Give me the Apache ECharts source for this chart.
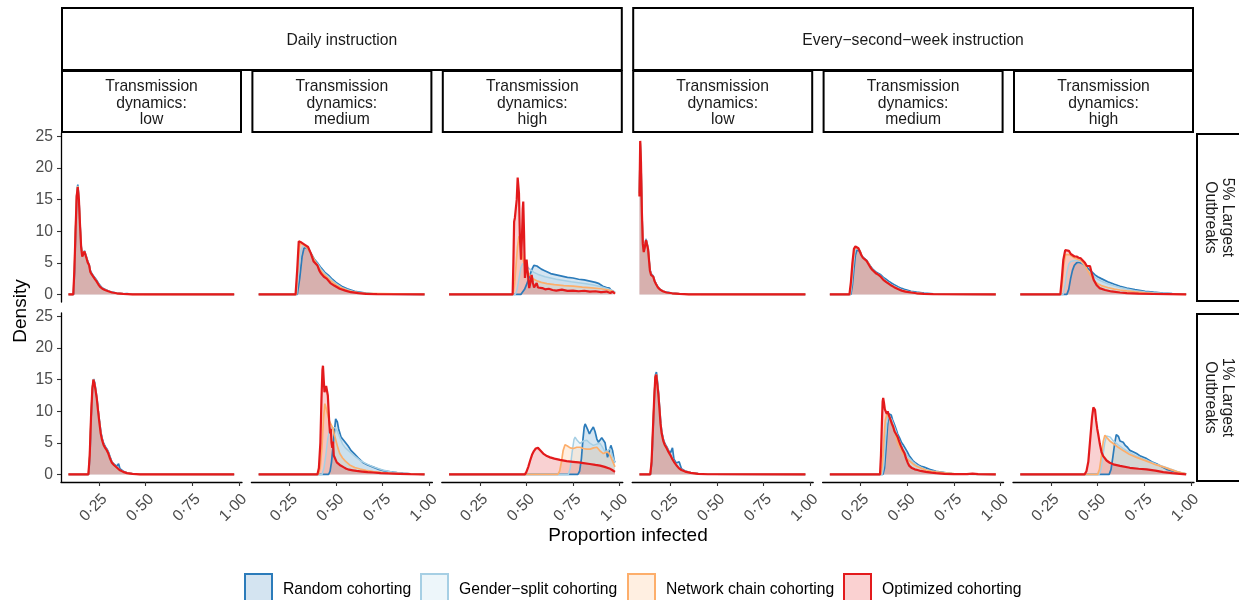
<!DOCTYPE html>
<html lang="en">
<head>
    <meta charset="utf-8">
    <title>Outbreak size densities</title>
    <script src="https://cdn.jsdelivr.net/npm/echarts@6/dist/echarts.min.js"></script>
    <style>
        html, body { margin: 0; padding: 0; background: #fff; }
        #chart { width: 1239px; height: 600px; }
    </style>
</head>
<body>
<div id="chart"></div>
<script>
    // ---- labels ----
    var seriesNames = ['Random cohorting', 'Gender\u2212split cohorting', 'Network chain cohorting', 'Optimized cohorting'];
    var instructions = ['Daily instruction', 'Every\u2212second\u2212week instruction'];
    var dynamics = ['low', 'medium', 'high'];
    var outbreakRows = ['5% Largest\nOutbreaks', '1% Largest\nOutbreaks'];
    var xTicks = [0.25, 0.5, 0.75, 1];
    var yTicks = [0, 5, 10, 15, 20, 25];

    // ---- densities, [proportion infected, density] ----
    // daily instruction, low dynamics, 5% largest
    var dLow5Random = [[0.086,0],[0.113,0],[0.119,4],[0.125,10.5],[0.131,16],[0.136,17.4],[0.142,15.3],[0.148,11.2],[0.154,7.8],[0.160,6.2],[0.166,6.4],[0.172,6.9],[0.178,6.6],[0.184,5.8],[0.190,5.2],[0.197,4.7],[0.203,3.8],[0.210,3.4],[0.218,3.0],[0.226,2.7],[0.236,2.3],[0.246,1.8],[0.256,1.4],[0.268,1.0],[0.282,0.8],[0.30,0.55],[0.32,0.35],[0.345,0.2],[0.38,0.1],[0.40,0.12],[0.43,0.03],[0.975,0]];
    var dLow5Gender = [[0.086,0],[0.112,0],[0.118,4],[0.124,10.2],[0.130,15.7],[0.136,17.2],[0.142,15.1],[0.148,11.1],[0.154,7.6],[0.160,6.1],[0.166,6.3],[0.172,6.8],[0.178,6.5],[0.184,5.7],[0.190,5.1],[0.197,4.6],[0.203,3.7],[0.210,3.3],[0.218,2.9],[0.226,2.6],[0.236,2.2],[0.246,1.7],[0.256,1.3],[0.268,0.95],[0.282,0.75],[0.30,0.5],[0.32,0.32],[0.345,0.19],[0.38,0.09],[0.43,0.02],[0.975,0]];
    var dLow5Chain = [[0.086,0],[0.112,0],[0.118,4.2],[0.124,10.3],[0.130,15.6],[0.136,17.1],[0.142,15],[0.148,11],[0.154,7.6],[0.160,6.1],[0.166,6.3],[0.172,6.8],[0.178,6.5],[0.184,5.6],[0.190,5.0],[0.197,4.6],[0.203,3.6],[0.210,3.2],[0.218,2.9],[0.226,2.5],[0.236,2.1],[0.246,1.6],[0.256,1.2],[0.268,0.9],[0.282,0.7],[0.30,0.5],[0.32,0.3],[0.345,0.18],[0.38,0.08],[0.43,0.02],[0.975,0]];
    var dLow5Optimized = [[0.086,0],[0.112,0],[0.118,4],[0.124,10],[0.130,15.5],[0.136,17.0],[0.142,15],[0.148,11],[0.154,7.5],[0.160,6.0],[0.166,6.3],[0.172,6.8],[0.178,6.5],[0.184,5.6],[0.190,5.0],[0.197,4.6],[0.203,3.6],[0.210,3.2],[0.218,2.9],[0.226,2.5],[0.236,2.1],[0.246,1.6],[0.256,1.2],[0.268,0.9],[0.282,0.7],[0.30,0.5],[0.32,0.3],[0.345,0.18],[0.38,0.08],[0.43,0.02],[0.975,0]];

    // daily instruction, medium dynamics, 5% largest
    var dMed5Random = [[0.085,0],[0.292,0],[0.305,2.5],[0.318,6],[0.328,7.3],[0.34,7.4],[0.355,7.0],[0.37,6.3],[0.385,5.5],[0.40,5.0],[0.42,4.2],[0.44,3.5],[0.46,3.0],[0.48,2.4],[0.50,1.9],[0.53,1.3],[0.56,0.9],[0.60,0.5],[0.65,0.25],[0.70,0.1],[0.78,0.03],[0.975,0]];
    var dMed5Gender = [[0.085,0],[0.289,0],[0.30,4],[0.312,7],[0.325,7.8],[0.34,7.5],[0.36,6.8],[0.38,5.5],[0.40,4.9],[0.42,4.0],[0.44,3.3],[0.46,2.8],[0.48,2.2],[0.50,1.7],[0.53,1.1],[0.56,0.75],[0.60,0.4],[0.65,0.2],[0.70,0.08],[0.975,0]];
    var dMed5Chain = [[0.085,0],[0.286,0],[0.296,5],[0.305,8],[0.318,8.0],[0.33,7.8],[0.35,7.2],[0.37,6.2],[0.39,5.1],[0.41,4.1],[0.43,3.3],[0.45,2.8],[0.47,2.2],[0.50,1.5],[0.53,1.0],[0.56,0.65],[0.60,0.35],[0.65,0.15],[0.975,0]];
    var dMed5Optimized = [[0.085,0],[0.283,0],[0.292,4],[0.300,8.4],[0.305,8.6],[0.315,8.2],[0.325,8.0],[0.335,7.8],[0.350,7.5],[0.365,6.5],[0.38,5.2],[0.39,5.0],[0.40,4.6],[0.41,3.8],[0.42,3.3],[0.435,2.8],[0.45,2.5],[0.47,1.8],[0.49,1.4],[0.52,0.9],[0.55,0.6],[0.58,0.35],[0.62,0.2],[0.66,0.1],[0.72,0.05],[0.975,0]];

    // daily instruction, high dynamics, 5% largest
    var dHigh5Random = [[0.085,0],[0.470,0],[0.48,0.3],[0.49,0.8],[0.50,1.5],[0.51,2.3],[0.52,3.2],[0.53,4.0],[0.540,4.6],[0.548,4.7],[0.556,4.5],[0.566,4.3],[0.58,4.0],[0.595,3.8],[0.61,3.6],[0.63,3.3],[0.66,3.1],[0.69,2.9],[0.72,2.7],[0.75,2.6],[0.78,2.4],[0.81,2.3],[0.84,2.1],[0.87,1.9],[0.89,1.7],[0.91,1.3],[0.93,1.1],[0.945,1.0],[0.955,0.6],[0.965,0.8],[0.975,0.3]];
    var dHigh5Gender = [[0.085,0],[0.44,0],[0.45,0.8],[0.46,2.5],[0.47,4.2],[0.48,4.9],[0.49,5.0],[0.50,4.6],[0.51,4.2],[0.52,3.9],[0.54,3.5],[0.56,3.2],[0.58,3.0],[0.60,2.8],[0.63,2.6],[0.66,2.4],[0.70,2.2],[0.74,2.0],[0.78,1.85],[0.82,1.7],[0.86,1.5],[0.90,1.2],[0.93,0.95],[0.95,0.75],[0.965,0.6],[0.975,0.3]];
    var dHigh5Chain = [[0.085,0],[0.428,0],[0.436,1.5],[0.444,4.5],[0.452,7.5],[0.460,9.2],[0.467,8.5],[0.474,6.8],[0.482,5.5],[0.49,4.6],[0.50,3.9],[0.51,3.4],[0.525,2.8],[0.54,2.4],[0.56,2.1],[0.58,1.9],[0.61,1.7],[0.65,1.55],[0.70,1.4],[0.75,1.3],[0.80,1.15],[0.85,1.05],[0.90,0.9],[0.94,0.7],[0.96,0.5],[0.975,0.2]];
    var dHigh5Optimized = [[0.085,0],[0.426,0],[0.430,5],[0.434,11.5],[0.438,12.1],[0.443,12.0],[0.448,15],[0.453,18.5],[0.456,18.8],[0.460,16],[0.465,9],[0.471,5.5],[0.476,9],[0.480,13.5],[0.483,14.7],[0.487,10],[0.492,2.6],[0.497,4],[0.501,5.5],[0.507,3.5],[0.515,1.0],[0.521,1.8],[0.528,3.1],[0.535,1.8],[0.541,1.1],[0.548,1.4],[0.555,1.8],[0.562,1.1],[0.572,0.9],[0.585,1.0],[0.60,0.8],[0.62,0.9],[0.64,0.7],[0.66,0.6],[0.69,0.75],[0.72,0.55],[0.75,0.6],[0.78,0.5],[0.81,0.58],[0.84,0.45],[0.87,0.5],[0.90,0.35],[0.93,0.45],[0.95,0.22],[0.962,0.45],[0.975,0.1]];

    // every-second-week instruction, low dynamics, 5% largest
    var eLow5Random = [[0.085,16],[0.089,24.0],[0.093,21.2],[0.098,13.3],[0.103,8.2],[0.108,6.9],[0.114,7.7],[0.120,8.8],[0.126,8.8],[0.131,7.4],[0.136,5.7],[0.141,4.0],[0.147,3.3],[0.153,3.3],[0.159,2.9],[0.166,2.2],[0.174,1.7],[0.184,1.2],[0.196,0.8],[0.21,0.55],[0.23,0.35],[0.26,0.2],[0.30,0.1],[0.35,0.03],[0.975,0]];
    var eLow5Gender = [[0.085,15.8],[0.089,24.1],[0.093,21.1],[0.098,13.1],[0.103,8.1],[0.108,6.8],[0.114,7.6],[0.120,8.7],[0.126,8.7],[0.131,7.3],[0.136,5.6],[0.141,3.9],[0.147,3.2],[0.153,3.2],[0.159,2.8],[0.166,2.1],[0.174,1.6],[0.184,1.15],[0.196,0.78],[0.21,0.52],[0.23,0.32],[0.26,0.19],[0.30,0.09],[0.35,0.02],[0.975,0]];
    var eLow5Chain = [[0.085,15.6],[0.089,24.2],[0.093,21],[0.098,13],[0.103,8],[0.108,6.7],[0.114,7.5],[0.120,8.6],[0.126,8.7],[0.131,7.2],[0.136,5.5],[0.141,3.8],[0.147,3.1],[0.153,3.2],[0.159,2.8],[0.166,2.1],[0.174,1.6],[0.184,1.1],[0.196,0.76],[0.21,0.5],[0.23,0.3],[0.26,0.18],[0.30,0.08],[0.35,0.02],[0.975,0]];
    var eLow5Optimized = [[0.085,15.5],[0.089,24.3],[0.093,21],[0.098,13],[0.103,8],[0.108,6.7],[0.114,7.5],[0.120,8.6],[0.126,8.7],[0.131,7.2],[0.136,5.5],[0.141,3.8],[0.147,3.1],[0.153,3.2],[0.159,2.8],[0.166,2.1],[0.174,1.6],[0.184,1.1],[0.196,0.75],[0.21,0.5],[0.23,0.3],[0.26,0.18],[0.30,0.08],[0.35,0.02],[0.975,0]];

    // every-second-week instruction, medium dynamics, 5% largest
    var eMed5Random = [[0.085,0],[0.198,0],[0.206,1.5],[0.214,4],[0.222,6.2],[0.230,7.0],[0.238,7.1],[0.246,6.9],[0.254,6.3],[0.262,5.9],[0.272,5.6],[0.282,5.4],[0.292,5.1],[0.302,4.5],[0.312,4.1],[0.322,3.8],[0.334,3.5],[0.346,3.3],[0.358,3.1],[0.372,2.7],[0.386,2.4],[0.40,2.1],[0.415,1.8],[0.43,1.55],[0.45,1.2],[0.47,0.95],[0.49,0.75],[0.52,0.5],[0.55,0.35],[0.59,0.2],[0.64,0.1],[0.70,0.04],[0.975,0]];
    var eMed5Gender = [[0.085,0],[0.195,0],[0.203,1.8],[0.211,4.6],[0.219,6.8],[0.227,7.4],[0.235,7.3],[0.243,7.0],[0.251,6.3],[0.259,5.9],[0.269,5.6],[0.279,5.4],[0.289,5.1],[0.299,4.5],[0.309,4.0],[0.319,3.7],[0.331,3.4],[0.343,3.2],[0.355,3.0],[0.369,2.6],[0.383,2.2],[0.397,1.9],[0.412,1.6],[0.427,1.35],[0.447,1.05],[0.467,0.8],[0.487,0.6],[0.517,0.4],[0.547,0.26],[0.587,0.15],[0.64,0.07],[0.70,0.02],[0.975,0]];
    var eMed5Chain = [[0.085,0],[0.192,0],[0.200,2],[0.208,5],[0.216,7.1],[0.224,7.5],[0.232,7.4],[0.240,7.2],[0.248,6.8],[0.256,6.1],[0.265,5.7],[0.275,5.5],[0.285,5.2],[0.295,4.8],[0.305,4.2],[0.315,3.8],[0.326,3.5],[0.338,3.2],[0.350,3.0],[0.363,2.6],[0.377,2.2],[0.391,1.9],[0.405,1.6],[0.42,1.3],[0.44,1.0],[0.46,0.75],[0.48,0.55],[0.51,0.36],[0.54,0.22],[0.58,0.12],[0.63,0.06],[0.975,0]];
    var eMed5Optimized = [[0.085,0],[0.19,0],[0.198,2],[0.206,5],[0.214,7.2],[0.222,7.6],[0.230,7.5],[0.238,7.3],[0.246,7.0],[0.254,6.2],[0.262,5.8],[0.272,5.5],[0.282,5.3],[0.292,5.0],[0.302,4.3],[0.312,3.9],[0.322,3.6],[0.334,3.3],[0.346,3.1],[0.358,2.8],[0.372,2.3],[0.386,2.0],[0.40,1.7],[0.415,1.4],[0.43,1.15],[0.45,0.85],[0.47,0.6],[0.49,0.45],[0.52,0.3],[0.55,0.18],[0.59,0.1],[0.64,0.05],[0.975,0]];

    // every-second-week instruction, high dynamics, 5% largest
    var eHigh5Random = [[0.085,0],[0.335,0],[0.345,0.8],[0.355,2.5],[0.365,3.8],[0.375,4.6],[0.387,5.0],[0.398,5.1],[0.410,5.0],[0.420,5.1],[0.432,4.6],[0.442,4.3],[0.452,4.0],[0.462,3.8],[0.472,3.5],[0.486,3.1],[0.50,2.8],[0.52,2.5],[0.554,2.0],[0.59,1.6],[0.62,1.3],[0.656,1.0],[0.70,0.75],[0.755,0.5],[0.80,0.35],[0.85,0.22],[0.90,0.12],[0.94,0.07],[0.975,0.03]];
    var eHigh5Gender = [[0.085,0],[0.315,0],[0.325,1.5],[0.335,3.5],[0.345,4.8],[0.355,5.2],[0.366,5.3],[0.376,5.4],[0.387,5.4],[0.398,5.3],[0.410,5.2],[0.420,5.2],[0.432,4.5],[0.442,4.0],[0.452,3.6],[0.462,3.4],[0.472,3.1],[0.486,2.7],[0.50,2.4],[0.52,2.1],[0.554,1.7],[0.59,1.35],[0.62,1.1],[0.656,0.85],[0.70,0.6],[0.755,0.4],[0.80,0.28],[0.85,0.17],[0.90,0.1],[0.975,0.02]];
    var eHigh5Chain = [[0.085,0],[0.303,0],[0.311,2],[0.319,4.8],[0.328,6.3],[0.338,6.6],[0.348,6.3],[0.358,6.0],[0.368,5.9],[0.378,5.7],[0.390,5.6],[0.400,5.4],[0.412,5.3],[0.422,5.2],[0.432,4.6],[0.442,4.0],[0.452,3.5],[0.462,3.0],[0.472,2.5],[0.486,2.0],[0.50,1.7],[0.52,1.4],[0.554,1.1],[0.59,0.85],[0.62,0.7],[0.656,0.55],[0.70,0.4],[0.755,0.26],[0.80,0.18],[0.85,0.1],[0.90,0.05],[0.975,0.01]];
    var eHigh5Optimized = [[0.085,0],[0.300,0],[0.308,2.5],[0.316,5.5],[0.326,7.0],[0.336,7.3],[0.346,6.9],[0.356,6.4],[0.366,6.3],[0.376,6.0],[0.387,6.0],[0.398,5.8],[0.410,5.7],[0.420,5.7],[0.432,5.0],[0.442,4.5],[0.450,4.4],[0.459,4.5],[0.468,3.4],[0.479,2.3],[0.494,1.5],[0.510,1.0],[0.54,0.7],[0.574,0.47],[0.62,0.3],[0.657,0.2],[0.72,0.12],[0.80,0.07],[0.88,0.04],[0.975,0.01]];

    // daily instruction, low dynamics, 1% largest
    var dLow1Random = [[0.086,0],[0.194,0],[0.201,3],[0.208,9.2],[0.215,13.8],[0.221,15.1],[0.227,14.5],[0.233,13.3],[0.239,12.0],[0.246,10],[0.253,8.3],[0.260,6.7],[0.267,5.7],[0.275,4.9],[0.284,4.4],[0.293,4.0],[0.301,3.5],[0.309,2.8],[0.319,2.0],[0.331,1.6],[0.345,1.3],[0.355,1.7],[0.362,0.9],[0.38,0.5],[0.40,0.25],[0.43,0.1],[0.47,0.03],[0.975,0]];
    var dLow1Gender = [[0.086,0],[0.193,0],[0.200,3],[0.207,9.1],[0.214,13.6],[0.220,15.0],[0.226,14.4],[0.232,13.2],[0.238,12.0],[0.245,10],[0.252,8.3],[0.259,6.6],[0.266,5.6],[0.274,4.8],[0.283,4.3],[0.292,3.9],[0.300,3.4],[0.308,2.7],[0.318,1.95],[0.330,1.55],[0.345,1.15],[0.36,0.75],[0.38,0.45],[0.40,0.22],[0.43,0.09],[0.47,0.02],[0.975,0]];
    var dLow1Chain = [[0.086,0],[0.193,0],[0.200,3.1],[0.207,9],[0.214,13.5],[0.220,15.0],[0.226,14.3],[0.232,13.2],[0.238,12.0],[0.245,10],[0.252,8.2],[0.259,6.5],[0.266,5.5],[0.274,4.7],[0.283,4.2],[0.292,3.8],[0.300,3.3],[0.308,2.6],[0.318,1.9],[0.330,1.5],[0.345,1.1],[0.36,0.7],[0.38,0.4],[0.40,0.2],[0.43,0.08],[0.47,0.02],[0.975,0]];
    var dLow1Optimized = [[0.086,0],[0.193,0],[0.200,3],[0.207,9],[0.214,13.5],[0.220,15.0],[0.226,14.3],[0.232,13.2],[0.238,12.0],[0.245,10],[0.252,8.2],[0.259,6.5],[0.266,5.5],[0.274,4.7],[0.283,4.2],[0.292,3.8],[0.300,3.3],[0.308,2.6],[0.318,1.9],[0.330,1.5],[0.345,1.1],[0.36,0.7],[0.38,0.4],[0.40,0.2],[0.43,0.08],[0.47,0.02],[0.975,0]];

    // daily instruction, medium dynamics, 1% largest
    var dMed1Random = [[0.085,0],[0.460,0],[0.468,0.5],[0.476,2],[0.484,4.5],[0.492,7.0],[0.498,8.8],[0.502,9.0],[0.507,8.3],[0.514,7.2],[0.520,6.6],[0.527,5.9],[0.535,5.6],[0.544,5.3],[0.554,5.0],[0.565,4.5],[0.58,3.8],[0.60,3.2],[0.62,2.6],[0.644,1.9],[0.67,1.5],[0.70,1.15],[0.73,0.8],[0.754,0.6],[0.79,0.4],[0.826,0.27],[0.86,0.16],[0.90,0.08],[0.94,0.03],[0.975,0.01]];
    var dMed1Gender = [[0.085,0],[0.425,0],[0.435,1],[0.445,3],[0.455,5.5],[0.465,7.0],[0.475,7.4],[0.485,7.6],[0.495,7.4],[0.505,7.0],[0.52,5.9],[0.535,4.8],[0.55,4.2],[0.573,3.6],[0.60,2.9],[0.63,2.2],[0.66,1.7],[0.70,1.2],[0.75,0.7],[0.80,0.4],[0.86,0.2],[0.92,0.08],[0.975,0.02]];
    var dMed1Chain = [[0.085,0],[0.405,0],[0.415,1],[0.425,4.5],[0.433,9],[0.440,11.2],[0.447,10.5],[0.455,9.5],[0.465,8.4],[0.475,7.8],[0.483,7.3],[0.49,6.4],[0.50,5.3],[0.51,4.2],[0.52,3.3],[0.535,2.6],[0.55,2.1],[0.573,1.5],[0.60,1.1],[0.63,0.85],[0.66,0.65],[0.70,0.45],[0.75,0.3],[0.80,0.18],[0.86,0.1],[0.92,0.05],[0.975,0.02]];
    var dMed1Optimized = [[0.085,0],[0.400,0],[0.408,1],[0.416,5],[0.422,12],[0.427,16.5],[0.430,17.2],[0.434,15],[0.438,13],[0.442,12.8],[0.447,14],[0.452,14.3],[0.456,12.5],[0.460,10.2],[0.464,8],[0.468,6.5],[0.472,7.2],[0.476,5],[0.480,4.2],[0.484,5.2],[0.488,3.0],[0.493,2.7],[0.498,3.2],[0.504,1.9],[0.512,2.2],[0.52,1.5],[0.53,1.3],[0.54,1.15],[0.555,0.9],[0.57,0.75],[0.59,0.65],[0.61,0.55],[0.64,0.45],[0.67,0.35],[0.70,0.3],[0.74,0.22],[0.78,0.15],[0.84,0.1],[0.90,0.05],[0.975,0.02]];

    // daily instruction, high dynamics, 1% largest
    var dHigh1Random = [[0.085,0],[0.776,0],[0.785,0.5],[0.795,2.5],[0.803,5.5],[0.810,7.5],[0.815,8.0],[0.822,7.8],[0.830,7.0],[0.838,6.4],[0.848,7.0],[0.859,7.5],[0.868,6.8],[0.878,5.6],[0.886,5.1],[0.895,5.3],[0.904,5.8],[0.913,5.9],[0.922,5.0],[0.930,3.5],[0.935,2.7],[0.943,3.5],[0.953,4.6],[0.962,3.8],[0.971,2.2],[0.975,1.9]];
    var dHigh1Gender = [[0.085,0],[0.725,0],[0.735,1],[0.745,3.5],[0.755,5.5],[0.761,5.9],[0.772,5.4],[0.788,4.9],[0.806,5.3],[0.824,5.4],[0.842,4.9],[0.859,4.6],[0.877,4.8],[0.895,4.9],[0.91,4.2],[0.922,3.5],[0.936,3.8],[0.949,4.1],[0.96,3.0],[0.975,1.9]];
    var dHigh1Chain = [[0.085,0],[0.668,0],[0.678,0.5],[0.688,2.0],[0.697,3.8],[0.707,4.7],[0.72,4.5],[0.735,4.2],[0.752,4.1],[0.77,4.3],[0.788,4.3],[0.805,4.1],[0.824,4.0],[0.842,4.0],[0.86,4.2],[0.878,4.3],[0.895,3.7],[0.913,3.3],[0.928,3.5],[0.94,3.5],[0.955,2.6],[0.975,1.2]];
    var dHigh1Optimized = [[0.085,0],[0.492,0],[0.50,0.4],[0.51,1.2],[0.52,2.2],[0.53,3.1],[0.54,3.7],[0.55,4.1],[0.562,4.2],[0.575,3.8],[0.59,3.3],[0.61,2.9],[0.627,2.7],[0.65,2.5],[0.68,2.3],[0.716,2.1],[0.75,2.0],[0.78,1.9],[0.806,1.8],[0.84,1.65],[0.87,1.5],[0.895,1.4],[0.92,1.2],[0.945,0.95],[0.96,0.7],[0.975,0.4]];

    // every-second-week instruction, low dynamics, 1% largest
    var eLow1Random = [[0.085,0],[0.144,0],[0.151,2],[0.158,7.2],[0.165,12.5],[0.171,15.8],[0.176,16.2],[0.181,14.8],[0.187,13.0],[0.193,10.6],[0.199,8.2],[0.205,6.7],[0.213,5.6],[0.221,4.9],[0.231,4.4],[0.241,3.8],[0.251,3.4],[0.262,4.2],[0.270,2.4],[0.282,1.8],[0.298,2.0],[0.31,0.9],[0.33,0.55],[0.36,0.3],[0.40,0.12],[0.45,0.04],[0.975,0]];
    var eLow1Gender = [[0.085,0],[0.143,0],[0.150,2],[0.157,7.1],[0.164,12.2],[0.170,15.5],[0.175,15.9],[0.180,14.6],[0.186,12.9],[0.192,10.5],[0.198,8.1],[0.204,6.6],[0.212,5.5],[0.220,4.8],[0.230,4.3],[0.240,3.7],[0.250,3.2],[0.260,2.7],[0.270,2.1],[0.282,1.6],[0.296,1.1],[0.31,0.75],[0.33,0.5],[0.36,0.27],[0.40,0.11],[0.45,0.03],[0.975,0]];
    var eLow1Chain = [[0.085,0],[0.143,0],[0.150,2.1],[0.157,7],[0.164,12],[0.170,15.4],[0.175,15.8],[0.180,14.5],[0.186,12.8],[0.192,10.5],[0.198,8],[0.204,6.5],[0.212,5.4],[0.220,4.7],[0.230,4.2],[0.240,3.6],[0.250,3.1],[0.260,2.5],[0.270,2.0],[0.282,1.5],[0.296,1.0],[0.31,0.7],[0.33,0.45],[0.36,0.25],[0.40,0.1],[0.45,0.03],[0.975,0]];
    var eLow1Optimized = [[0.085,0],[0.143,0],[0.150,2],[0.157,7],[0.164,12],[0.170,15.4],[0.175,15.8],[0.180,14.5],[0.186,12.8],[0.192,10.5],[0.198,8],[0.204,6.5],[0.212,5.4],[0.220,4.7],[0.230,4.2],[0.240,3.6],[0.250,3.1],[0.260,2.5],[0.270,2.0],[0.282,1.5],[0.296,1.0],[0.31,0.7],[0.33,0.45],[0.36,0.25],[0.40,0.1],[0.45,0.03],[0.975,0]];

    // every-second-week instruction, medium dynamics, 1% largest
    var eMed1Random = [[0.085,0],[0.370,0],[0.378,1],[0.386,4],[0.394,7.5],[0.401,9.6],[0.407,9.9],[0.414,9.4],[0.422,8.6],[0.430,8.0],[0.440,7.2],[0.449,6.4],[0.46,5.7],[0.47,5.0],[0.48,4.6],[0.49,4.3],[0.50,3.6],[0.51,3.0],[0.52,2.6],[0.53,2.2],[0.545,1.8],[0.56,1.5],[0.575,1.3],[0.59,1.15],[0.62,0.8],[0.655,0.5],[0.70,0.3],[0.74,0.12],[0.80,0.05],[0.975,0.01]];
    var eMed1Gender = [[0.085,0],[0.366,0],[0.374,1.5],[0.382,5],[0.390,8],[0.398,9.2],[0.406,9.3],[0.415,8.8],[0.425,8.0],[0.435,7.2],[0.449,6.0],[0.46,5.2],[0.47,4.5],[0.48,3.9],[0.49,3.4],[0.51,2.6],[0.53,2.0],[0.55,1.5],[0.572,1.15],[0.60,0.8],[0.63,0.55],[0.655,0.42],[0.70,0.25],[0.75,0.12],[0.82,0.05],[0.975,0.01]];
    var eMed1Chain = [[0.085,0],[0.358,0],[0.366,1.5],[0.374,5],[0.382,8.5],[0.391,9.6],[0.400,9.2],[0.41,8.6],[0.42,7.9],[0.43,7.0],[0.44,6.0],[0.449,5.0],[0.46,4.3],[0.47,3.7],[0.48,3.2],[0.49,2.8],[0.51,2.2],[0.53,1.7],[0.55,1.3],[0.572,1.0],[0.60,0.7],[0.63,0.5],[0.655,0.4],[0.70,0.25],[0.75,0.12],[0.82,0.06],[0.975,0.01]];
    var eMed1Optimized = [[0.085,0],[0.354,0],[0.359,3],[0.364,8],[0.368,11.5],[0.371,12.1],[0.375,11.4],[0.380,10.3],[0.385,10.0],[0.390,9.6],[0.395,10.0],[0.400,9.5],[0.406,9.2],[0.412,8.5],[0.418,8.0],[0.425,7.5],[0.432,6.8],[0.440,6.4],[0.449,5.9],[0.457,5.2],[0.465,4.6],[0.474,4.0],[0.486,3.3],[0.494,2.5],[0.502,1.9],[0.510,1.4],[0.525,1.0],[0.54,0.8],[0.555,0.7],[0.572,0.55],[0.60,0.4],[0.63,0.28],[0.655,0.2],[0.70,0.1],[0.75,0.05],[0.82,0.05],[0.85,0.12],[0.88,0.05],[0.975,0.02]];

    // every-second-week instruction, high dynamics, 1% largest
    var eHigh1Random = [[0.085,0],[0.562,0],[0.572,0.8],[0.582,2.8],[0.592,5.0],[0.600,6.3],[0.605,6.6],[0.612,6.0],[0.620,5.3],[0.628,5.0],[0.637,5.1],[0.648,4.6],[0.66,4.3],[0.673,3.8],[0.69,3.6],[0.709,3.3],[0.73,2.9],[0.763,2.5],[0.79,2.0],[0.816,1.7],[0.845,1.2],[0.87,0.8],[0.90,0.55],[0.924,0.4],[0.95,0.2],[0.975,0.05]];
    var eHigh1Gender = [[0.085,0],[0.508,0],[0.518,0.8],[0.528,2.8],[0.538,5.0],[0.548,6.1],[0.557,6.3],[0.568,5.9],[0.584,5.3],[0.61,4.7],[0.637,4.1],[0.67,3.5],[0.709,2.9],[0.745,2.5],[0.781,2.0],[0.815,1.6],[0.852,1.25],[0.89,0.85],[0.924,0.5],[0.95,0.28],[0.975,0.1]];
    var eHigh1Chain = [[0.085,0],[0.500,0],[0.510,0.8],[0.520,2.8],[0.530,5.2],[0.539,6.2],[0.550,5.8],[0.565,5.3],[0.584,4.9],[0.61,4.3],[0.637,3.8],[0.67,3.2],[0.709,2.7],[0.745,2.3],[0.781,1.9],[0.815,1.5],[0.852,1.2],[0.89,0.8],[0.924,0.45],[0.95,0.25],[0.975,0.1]];
    var eHigh1Optimized = [[0.085,0],[0.430,0],[0.440,0.5],[0.450,2],[0.460,5.5],[0.470,9],[0.477,10.6],[0.481,10.8],[0.486,10.2],[0.492,8.5],[0.498,7.2],[0.503,6.4],[0.512,4.8],[0.521,3.5],[0.53,2.9],[0.548,2.2],[0.565,1.85],[0.584,1.6],[0.62,1.35],[0.673,1.05],[0.72,0.9],[0.763,0.8],[0.81,0.6],[0.852,0.37],[0.90,0.2],[0.942,0.1],[0.975,0.02]];

    // rows: outbreak size, columns: instruction x dynamics
    var panelData = [
        [
            [dLow5Random, dLow5Gender, dLow5Chain, dLow5Optimized],
            [dMed5Random, dMed5Gender, dMed5Chain, dMed5Optimized],
            [dHigh5Random, dHigh5Gender, dHigh5Chain, dHigh5Optimized],
            [eLow5Random, eLow5Gender, eLow5Chain, eLow5Optimized],
            [eMed5Random, eMed5Gender, eMed5Chain, eMed5Optimized],
            [eHigh5Random, eHigh5Gender, eHigh5Chain, eHigh5Optimized]
        ],
        [
            [dLow1Random, dLow1Gender, dLow1Chain, dLow1Optimized],
            [dMed1Random, dMed1Gender, dMed1Chain, dMed1Optimized],
            [dHigh1Random, dHigh1Gender, dHigh1Chain, dHigh1Optimized],
            [eLow1Random, eLow1Gender, eLow1Chain, eLow1Optimized],
            [eMed1Random, eMed1Gender, eMed1Chain, eMed1Optimized],
            [eHigh1Random, eHigh1Gender, eHigh1Chain, eHigh1Optimized]
        ]
    ];

    // ---- look ----
    var lineColors = ['#2b7bba', '#a6cfe4', '#fdae6b', '#e31a1c'];
    var lineWidths = [1.7, 1.5, 1.7, 2.2];
    var font = '"Liberation Sans", Arial, sans-serif';
    var smallFont = '15.7px ' + font;
    var panelLeft = 61, panelStep = 190.4, panelWidth = 181;
    var rowTops = [133, 313], panelHeight = 169;
    var legendKeyX = [245, 421, 628, 844];

    var grids = [], xAxes = [], yAxes = [], series = [], graphics = [];

    panelData.forEach(function (row, r) {
        row.forEach(function (panel, c) {
            var i = r * 6 + c;
            var bottom = r === panelData.length - 1;
            var left = c === 0;
            grids.push({
                left: panelLeft + c * panelStep,
                top: rowTops[r],
                width: panelWidth,
                height: panelHeight
            });
            xAxes.push({
                gridIndex: i,
                type: 'value',
                min: 0.046,
                max: 1.017,
                splitLine: { show: false },
                axisLine: { show: bottom, onZero: false, lineStyle: { color: '#000', width: 1.3 } },
                axisTick: { show: bottom, customValues: xTicks, length: 4, lineStyle: { color: '#333', width: 1.1 } },
                axisLabel: {
                    show: bottom,
                    customValues: xTicks,
                    rotate: 45,
                    margin: 9,
                    align: 'right',
                    verticalAlign: 'top',
                    fontSize: 15.7,
                    fontFamily: font,
                    color: '#4d4d4d',
                    formatter: function (v) { return v.toFixed(2).replace('.', '\u00b7'); }
                }
            });
            yAxes.push({
                gridIndex: i,
                type: 'value',
                min: -1.2,
                max: 25.55,
                splitLine: { show: false },
                axisLine: { show: left, onZero: false, lineStyle: { color: '#000', width: 1.3 } },
                axisTick: { show: left, customValues: yTicks, length: 4, lineStyle: { color: '#333', width: 1.1 } },
                axisLabel: {
                    show: left,
                    customValues: yTicks,
                    margin: 8,
                    fontSize: 15.7,
                    fontFamily: font,
                    color: '#4d4d4d'
                }
            });
            panel.forEach(function (pts, s) {
                series.push({
                    name: seriesNames[s],
                    type: 'line',
                    xAxisIndex: i,
                    yAxisIndex: i,
                    data: pts,
                    symbol: 'none',
                    silent: true,
                    lineStyle: { color: lineColors[s], width: lineWidths[s] },
                    itemStyle: { color: lineColors[s] },
                    areaStyle: { color: lineColors[s], opacity: 0.2 }
                });
            });
        });
    });

    // strips on top
    instructions.forEach(function (txt, k) {
        var x0 = panelLeft + 3 * k * panelStep;
        var x1 = panelLeft + (3 * k + 2) * panelStep + panelWidth;
        graphics.push({ type: 'rect', shape: { x: x0 + 1, y: 8, width: x1 - x0 - 2, height: 62 },
            style: { fill: '#fff', stroke: '#000', lineWidth: 2 } });
        graphics.push({ type: 'text', x: (x0 + x1) / 2, y: 41,
            style: { text: txt, font: smallFont, fill: '#1a1a1a', align: 'center', verticalAlign: 'middle' } });
    });
    for (var c = 0; c < 6; c++) {
        var cx = panelLeft + c * panelStep;
        graphics.push({ type: 'rect', shape: { x: cx + 1, y: 71, width: panelWidth - 2, height: 61 },
            style: { fill: '#fff', stroke: '#000', lineWidth: 2 } });
        graphics.push({ type: 'text', x: cx + panelWidth / 2, y: 103.5,
            style: { text: 'Transmission\ndynamics:\n' + dynamics[c % 3], font: smallFont, lineHeight: 16.5,
                fill: '#1a1a1a', align: 'center', verticalAlign: 'middle' } });
    }
    // strips on the right
    outbreakRows.forEach(function (txt, r) {
        graphics.push({ type: 'rect', shape: { x: 1197, y: rowTops[r] + 1, width: 60, height: panelHeight - 2 },
            style: { fill: '#fff', stroke: '#000', lineWidth: 2 } });
        graphics.push({ type: 'text', x: 1219, y: rowTops[r] + panelHeight / 2, rotation: -Math.PI / 2,
            style: { text: txt, font: smallFont, lineHeight: 17, fill: '#1a1a1a', align: 'center', verticalAlign: 'middle' } });
    });

    // axis titles
    graphics.push({ type: 'text', x: 21, y: 311, rotation: Math.PI / 2,
        style: { text: 'Density', font: '19px ' + font, fill: '#000', align: 'center', verticalAlign: 'middle' } });
    graphics.push({ type: 'text', x: 628, y: 536,
        style: { text: 'Proportion infected', font: '19px ' + font, fill: '#000', align: 'center', verticalAlign: 'middle' } });

    // legend
    seriesNames.forEach(function (name, s) {
        graphics.push({ type: 'rect', shape: { x: legendKeyX[s], y: 574, width: 27, height: 28 },
            style: { fill: lineColors[s], stroke: lineColors[s], lineWidth: 2 }, z: 10 });
        graphics.push({ type: 'rect', shape: { x: legendKeyX[s], y: 574, width: 27, height: 28 },
            style: { fill: 'rgba(255,255,255,0.8)', stroke: lineColors[s], lineWidth: 2 }, z: 11 });
        graphics.push({ type: 'text', x: legendKeyX[s] + 38, y: 589.5,
            style: { text: name, font: smallFont, fill: '#000', align: 'left', verticalAlign: 'middle' }, z: 12 });
    });

    var chart = echarts.init(document.getElementById('chart'));
    chart.setOption({
        animation: false,
        backgroundColor: '#fff',
        grid: grids,
        xAxis: xAxes,
        yAxis: yAxes,
        series: series,
        graphic: graphics
    });
</script>
</body>
</html>
